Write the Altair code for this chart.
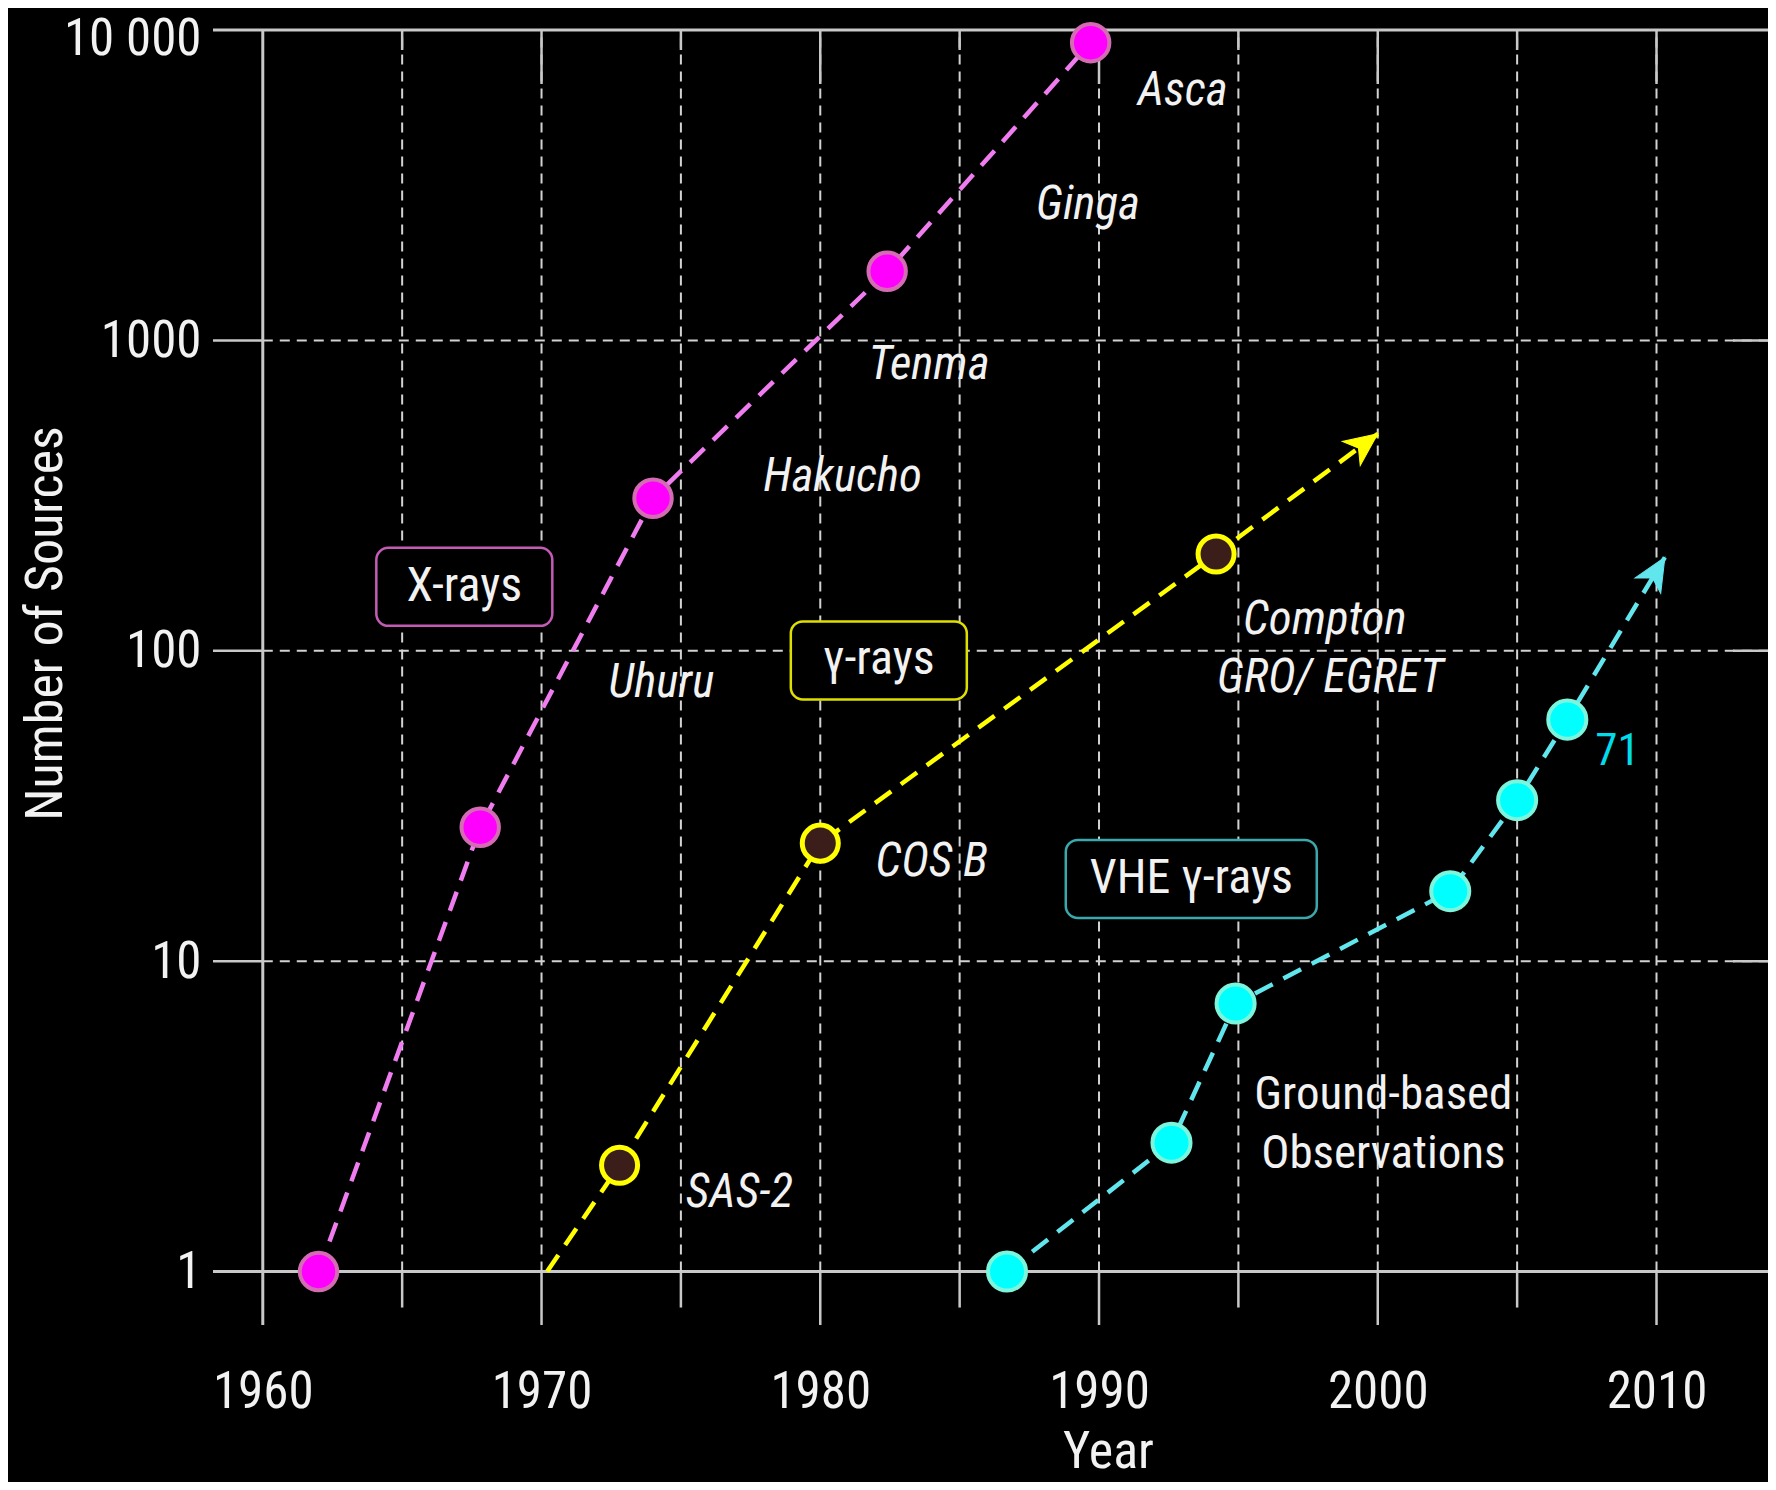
import math
import altair as alt
import pandas as pd

# ---------------- data ----------------
xray_years = [1962.0, 1967.8, 1974.0, 1982.4, 1989.7]
xray_sources = [1, 27, 310, 1670, 9100]

gamma_line_years = [1970.2, 1972.8, 1980.0, 1994.2, 2000.0]
gamma_line_sources = [1, 2.2, 24, 205, 500]
gamma_marker_years = [1972.8, 1980.0, 1994.2]
gamma_marker_sources = [2.2, 24, 205]

vhe_line_years = [1986.7, 1992.6, 1994.9, 2002.6, 2005.0, 2006.8, 2010.3]
vhe_line_sources = [1, 2.6, 7.3, 16.8, 33, 60, 200]
vhe_marker_years = [1986.7, 1992.6, 1994.9, 2002.6, 2005.0, 2006.8]
vhe_marker_sources = [1, 2.6, 7.3, 16.8, 33, 60]

mission_labels = ["Asca", "Ginga", "Tenma", "Hakucho", "Uhuru", "COS B", "SAS-2",
                  "Compton", "GRO/ EGRET"]
mission_years = [1993.0, 1989.6, 1983.9, 1980.8, 1974.3, 1984.0, 1977.1, 1998.1, 1998.3]
mission_sources = [6350, 2740, 832, 362, 79, 20.9, 1.79, 126, 82]

ground_labels = ["Ground-based", "Observations"]
ground_years = [2000.2, 2000.2]
ground_sources = [3.71, 2.40]

count_labels = ["71"]
count_years = [2008.6]
count_sources = [47.7]

box_labels = ["X-rays", "γ-rays", "VHE γ-rays"]
box_years = [1967.23, 1982.1, 1993.31]
box_sources = [160.7, 93.1, 18.4]

x_tick_years = [1960, 1970, 1980, 1990, 2000, 2010]
x_minor_years = [1965, 1975, 1985, 1995, 2005]
y_tick_values = [1, 10, 100, 1000, 10000]
y_tick_labels = ["1", "10", "100", "1000", "10 000"]

# ---------------- layout ----------------
X_MIN, X_MAX = 1958.214, 2014.0
Y_MIN, Y_MAX = 0.6726, 10000
PLOT_W, PLOT_H = 1555, 1295
PX_YEAR = PLOT_W / (X_MAX - X_MIN)
PX_DEC = PLOT_H / (math.log10(Y_MAX) - math.log10(Y_MIN))

FONT = "Roboto Condensed, Liberation Sans Narrow, Arial Narrow, Liberation Sans, Arial, sans-serif"
TXT = "#f2f2f2"
GRID = "#d2d2d2"
SOLID = "#c8c8c8"
AX_FS = 51
TITLE_FS = 52
ANN_FS = 47
BOX_FS = 48

xscale = alt.Scale(domain=[X_MIN, X_MAX], nice=False, zero=False)
yscale = alt.Scale(type="log", domain=[Y_MIN, Y_MAX], nice=False)

label_expr = " : ".join(
    f"datum.value == {v} ? '{t}'" for v, t in zip(y_tick_values, y_tick_labels)
) + " : ''"

x_axis = alt.Axis(values=x_tick_years, title="Year", format="d",
                  labelFont=FONT, labelFontSize=AX_FS, labelColor=TXT, labelPadding=42,
                  ticks=False, tickSize=0, domain=False, grid=False,
                  labelFlush=False, labelOverlap=False,
                  titleFont=FONT, titleFontSize=TITLE_FS, titleColor=TXT, titleFontWeight="normal",
                  titleBaseline="alphabetic", titleAlign="center", titleX=895, titleY=142)
y_axis = alt.Axis(values=y_tick_values, labelExpr=label_expr, title="Number of Sources",
                  labelFont=FONT, labelFontSize=AX_FS, labelColor=TXT, labelPadding=12,
                  labelOffset={"condition": {"test": f"datum.value == {max(y_tick_values)}",
                                             "value": 9}, "value": 1},
                  ticks=False, tickSize=0, domain=False, grid=False,
                  labelFlush=False, labelOverlap=False, labelBaseline="middle",
                  titleFont=FONT, titleFontSize=TITLE_FS, titleColor=TXT, titleFontWeight="normal",
                  titleAngle=270, titleBaseline="alphabetic", titleAlign="center",
                  titleX=-152, titleY=593)


def X(field):
    return alt.X(f"{field}:Q", scale=xscale, axis=x_axis)


def Y(field):
    return alt.Y(f"{field}:Q", scale=yscale, axis=y_axis)


layers = []

# ---- grid & frame ----
h_major = [v for v in y_tick_values if v not in (1, 10000)]
df_hdash = pd.DataFrame({"y": h_major, "x0": [1960] * len(h_major), "x1": [X_MAX] * len(h_major)})
layers.append(alt.Chart(df_hdash).mark_rule(color=GRID, strokeWidth=2, strokeDash=[10, 7])
              .encode(x=X("x0"), x2="x1", y=Y("y")))
df_hleft = pd.DataFrame({"y": h_major, "x0": [X_MIN] * len(h_major), "x1": [1960] * len(h_major)})
layers.append(alt.Chart(df_hleft).mark_rule(color=SOLID, strokeWidth=2.5)
              .encode(x=X("x0"), x2="x1", y=Y("y")))
df_hright = pd.DataFrame({"y": h_major, "x0": [X_MAX] * len(h_major)})
layers.append(alt.Chart(df_hright).mark_rule(color=SOLID, strokeWidth=2.5, xOffset=-35)
              .encode(x=X("x0"), x2="x0", y=Y("y")))
df_hsolid = pd.DataFrame({"y": [1, 10000], "x0": [X_MIN, X_MIN], "x1": [X_MAX, X_MAX]})
layers.append(alt.Chart(df_hsolid).mark_rule(color=SOLID, strokeWidth=3)
              .encode(x=X("x0"), x2="x1", y=Y("y")))

v_dash_years = sorted([y for y in x_tick_years if y != 1960] + x_minor_years)
df_vdash = pd.DataFrame({"x": v_dash_years, "y0": [1] * len(v_dash_years),
                         "y1": [10000] * len(v_dash_years)})
layers.append(alt.Chart(df_vdash).mark_rule(color=GRID, strokeWidth=2, strokeDash=[10, 7])
              .encode(x=X("x"), y=Y("y0"), y2="y1"))
major_no60 = [y for y in x_tick_years if y != 1960]
df_vbot = pd.DataFrame({"x": major_no60, "y0": [Y_MIN] * len(major_no60),
                        "y1": [1] * len(major_no60)})
layers.append(alt.Chart(df_vbot).mark_rule(color=SOLID, strokeWidth=2.5)
              .encode(x=X("x"), y=Y("y0"), y2="y1"))
df_vbot_minor = pd.DataFrame({"x": x_minor_years, "y0": [1] * len(x_minor_years)})
layers.append(alt.Chart(df_vbot_minor).mark_rule(color=SOLID, strokeWidth=2.5, y2Offset=36)
              .encode(x=X("x"), y=Y("y0"), y2="y0"))
df_vtop = pd.DataFrame({"x": major_no60, "y0": [10000] * len(major_no60)})
layers.append(alt.Chart(df_vtop).mark_rule(color=SOLID, strokeWidth=2.5, y2Offset=54)
              .encode(x=X("x"), y=Y("y0"), y2="y0"))
df_vtop_minor = pd.DataFrame({"x": x_minor_years, "y0": [10000] * len(x_minor_years)})
layers.append(alt.Chart(df_vtop_minor).mark_rule(color=SOLID, strokeWidth=2.5, y2Offset=20)
              .encode(x=X("x"), y=Y("y0"), y2="y0"))
df_v60 = pd.DataFrame({"x": [1960], "y0": [Y_MIN], "y1": [10000]})
layers.append(alt.Chart(df_v60).mark_rule(color=SOLID, strokeWidth=3)
              .encode(x=X("x"), y=Y("y0"), y2="y1"))

# ---- boxes ----
box_w = [176, 176, 251]
box_h = 78
box_strokes = ["#c45cb6", "#dede00", "#3aa8ac"]
for lab, yr, src, w, col in zip(box_labels, box_years, box_sources, box_w, box_strokes):
    d = pd.DataFrame({"year": [yr], "sources": [src]})
    layers.append(alt.Chart(d).mark_rect(fill="black", stroke=col, strokeWidth=2.5,
                                         cornerRadius=12, xOffset=-w / 2, x2Offset=w / 2,
                                         yOffset=-box_h / 2, y2Offset=box_h / 2)
                  .encode(x=X("year"), x2="year", y=Y("sources"), y2="sources"))

# ---- series lines ----
DASH = [20, 12]
df_x = pd.DataFrame({"year": xray_years, "sources": xray_sources})
df_gl = pd.DataFrame({"year": gamma_line_years, "sources": gamma_line_sources})
df_vl = pd.DataFrame({"year": vhe_line_years, "sources": vhe_line_sources})
layers.append(alt.Chart(df_x).mark_line(color="#f07df0", strokeWidth=4.5, strokeDash=DASH)
              .encode(x=X("year"), y=Y("sources")))
layers.append(alt.Chart(df_gl).mark_line(color="#ffff00", strokeWidth=4.5, strokeDash=DASH)
              .encode(x=X("year"), y=Y("sources")))
layers.append(alt.Chart(df_vl).mark_line(color="#62e6ee", strokeWidth=4.5, strokeDash=DASH)
              .encode(x=X("year"), y=Y("sources")))

# ---- arrowheads ----
ARROW = "M0,0 L0.5,1.1 L0,0.8 L-0.5,1.1 Z"


def arrow_angle(x0, v0, x1, v1):
    dx = (x1 - x0) * PX_YEAR
    dy = (math.log10(v1) - math.log10(v0)) * PX_DEC
    return math.degrees(math.atan2(dx, dy))


for yrs, srcs, col in [(gamma_line_years, gamma_line_sources, "#ffff00"),
                       (vhe_line_years, vhe_line_sources, "#62e6ee")]:
    ang = arrow_angle(yrs[-2], srcs[-2], yrs[-1], srcs[-1])
    d = pd.DataFrame({"year": [yrs[-1]], "sources": [srcs[-1]]})
    layers.append(alt.Chart(d).mark_point(shape=ARROW, filled=True, fill=col, stroke=col,
                                          strokeWidth=1, size=3600, angle=ang, opacity=1)
                  .encode(x=X("year"), y=Y("sources")))

# ---- markers ----
df_gm = pd.DataFrame({"year": gamma_marker_years, "sources": gamma_marker_sources})
df_vm = pd.DataFrame({"year": vhe_marker_years, "sources": vhe_marker_sources})
layers.append(alt.Chart(df_x).mark_point(shape="circle", filled=True, fill="#ff00ff",
                                         stroke="#d46cb4", strokeWidth=4, size=1400, opacity=1)
              .encode(x=X("year"), y=Y("sources")))
layers.append(alt.Chart(df_gm).mark_point(shape="circle", filled=True, fill="#3b1d1a",
                                          stroke="#ffff00", strokeWidth=5, size=1300, opacity=1)
              .encode(x=X("year"), y=Y("sources")))
layers.append(alt.Chart(df_vm).mark_point(shape="circle", filled=True, fill="#00ffff",
                                          stroke="#7cf5dc", strokeWidth=4, size=1450, opacity=1)
              .encode(x=X("year"), y=Y("sources")))

# ---- texts ----
df_m = pd.DataFrame({"label": mission_labels, "year": mission_years, "sources": mission_sources})
layers.append(alt.Chart(df_m).mark_text(font=FONT, fontSize=ANN_FS, fontStyle="italic", color=TXT,
                                        align="center", baseline="middle")
              .encode(x=X("year"), y=Y("sources"), text="label:N"))
df_g = pd.DataFrame({"label": ground_labels, "year": ground_years, "sources": ground_sources})
layers.append(alt.Chart(df_g).mark_text(font=FONT, fontSize=ANN_FS, color=TXT,
                                        align="center", baseline="middle")
              .encode(x=X("year"), y=Y("sources"), text="label:N"))
df_c = pd.DataFrame({"label": count_labels, "year": count_years, "sources": count_sources})
layers.append(alt.Chart(df_c).mark_text(font=FONT, fontSize=45, color="#00dcec",
                                        align="center", baseline="middle")
              .encode(x=X("year"), y=Y("sources"), text="label:N"))
df_b = pd.DataFrame({"label": box_labels, "year": box_years, "sources": box_sources})
layers.append(alt.Chart(df_b).mark_text(font=FONT, fontSize=BOX_FS, color=TXT,
                                        align="center", baseline="middle")
              .encode(x=X("year"), y=Y("sources"), text="label:N"))

chart = (
    alt.layer(*layers)
    .properties(width=PLOT_W, height=PLOT_H,
                autosize=alt.AutoSizeParams(type="none"),
                padding={"left": 205, "top": 22, "right": 0, "bottom": 157})
    .configure(background="black")
    .configure_view(stroke=None)
)

chart.save("out.html", embed_options={"renderer": "svg", "actions": False})
